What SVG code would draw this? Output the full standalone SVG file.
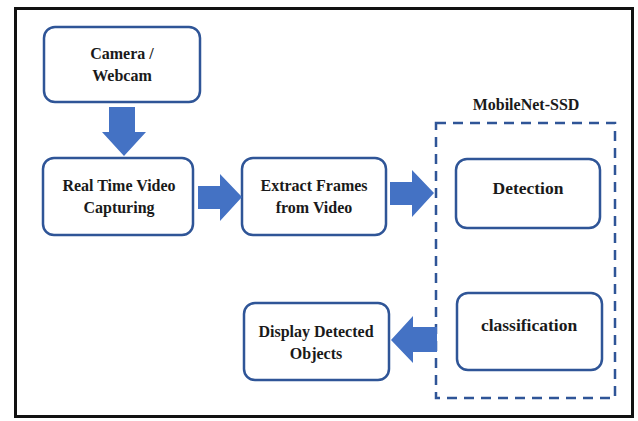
<svg xmlns="http://www.w3.org/2000/svg" width="638" height="421" viewBox="0 0 638 421">
<style>
.box{fill:#fff;stroke:#2F5597;stroke-width:2.5}
.t{font-family:"Liberation Serif","Times New Roman",serif;font-weight:bold;font-size:16px;fill:#1a1a1a;text-anchor:middle}
.big{font-size:17.5px}
.arr{fill:#4472C4}
</style>
<rect x="0" y="0" width="638" height="421" fill="#fff"/>
<rect x="15.5" y="8.5" width="617" height="408" fill="none" stroke="#111" stroke-width="3"/>
<g id="camera"><rect class="box" x="44" y="27" width="156" height="75" rx="11"/><text class="t" x="122" y="59">Camera /</text><text class="t" x="122" y="81">Webcam</text></g>
<g id="capture"><rect class="box" x="43" y="158" width="150" height="77" rx="11"/><text class="t" x="119" y="191">Real Time Video</text><text class="t" x="119" y="213">Capturing</text></g>
<g id="extract"><rect class="box" x="242" y="158" width="144" height="77" rx="11"/><text class="t" x="314" y="191">Extract Frames</text><text class="t" x="314" y="213">from Video</text></g>
<g id="mobilenet"><rect x="436" y="123" width="179" height="275" fill="none" stroke="#2F5597" stroke-width="2.5" stroke-dasharray="10,7"/><text class="t" x="526" y="110">MobileNet-SSD</text></g>
<g id="detection"><rect class="box" x="456" y="159" width="144" height="69" rx="11"/><text class="t big" x="528" y="194">Detection</text></g>
<g id="classification"><rect class="box" x="457" y="293" width="145" height="77" rx="11"/><text class="t big" x="529" y="331">classification</text></g>
<g id="display"><rect class="box" x="244" y="303" width="145" height="77" rx="11"/><text class="t" x="316" y="337">Display Detected</text><text class="t" x="316" y="359">Objects</text></g>
<g id="connectors">
<polygon class="arr" points="109,107 135,107 135,132 146,132 124,156 102,132 109,132"/>
<polygon class="arr" points="198,186 220,186 220,174 242,197 220,221 220,209 198,209"/>
<polygon class="arr" points="390,182 412,182 412,170 434,193 412,217 412,205 390,205"/>
<polygon class="arr" points="437,327 413,327 413,316 391,340 413,363 413,352 437,352"/>
</g>
</svg>
